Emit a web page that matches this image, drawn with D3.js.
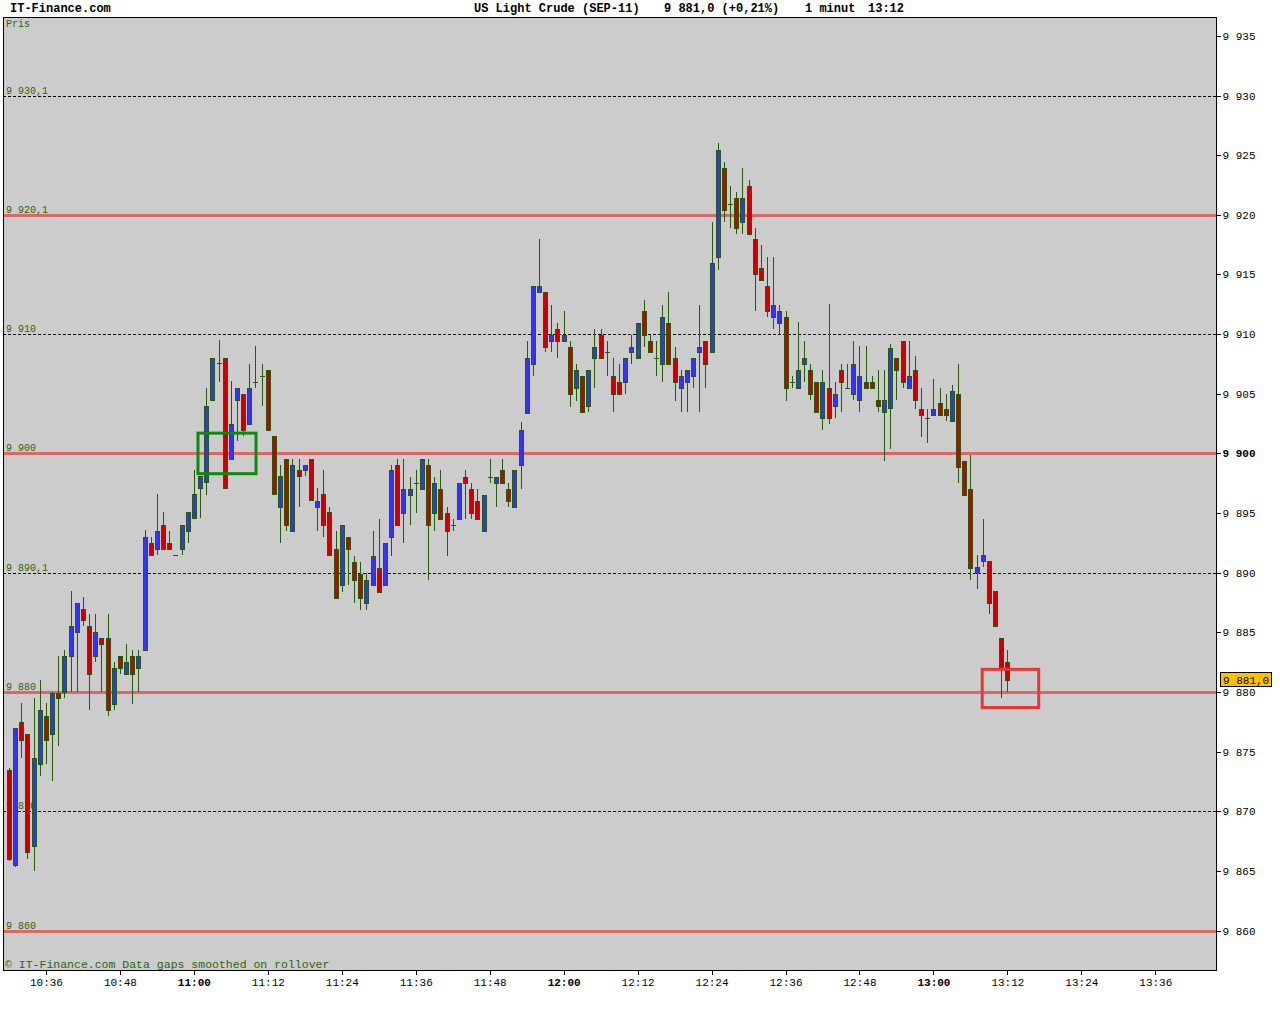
<!DOCTYPE html>
<meta charset="utf-8">
<html>
<head>
	<script src="https://cdn.jsdelivr.net/npm/d3@7"></script>
	<style>
		body { margin: 0; background: #fff; }
		text { font-family: "Liberation Mono", "DejaVu Sans Mono", monospace; }
	</style>
</head>
<body>
	<svg id="chart" width="1280" height="1024"></svg>
	<script>
		// one-minute candles, first one at 10:30
		var startTime = "10:30";
		var opens = [9873.5,9865.5,9877.5,9876.5,9867.1,9874.0,9878.0,9876.5,9879.9,9880.0,
			9883.0,9885.0,9887.0,9885.5,9883.0,9884.5,9884.5,9879.0,9883.0,9881.5,
			9883.0,9882.0,9883.5,9892.5,9892.0,9894.0,9892.5,9891.5,9892.0,9893.5,
			9894.6,9897.1,9897.6,9904.5,9907.6,9908.0,9899.5,9904.5,9905.0,9902.5,
			9906.0,9906.5,9907.0,9901.5,9895.5,9899.5,9893.5,9898.6,9898.6,9899.5,
			9895.5,9896.6,9895.1,9892.0,9889.0,9893.0,9890.9,9889.9,9887.5,9889.0,
			9890.4,9889.0,9893.0,9899.0,9895.0,9896.5,9897.5,9897.0,9899.0,9895.0,
			9897.0,9895.0,9894.0,9894.5,9898.0,9897.0,9896.0,9893.5,9898.0,9897.5,
			9898.6,9897.0,9895.5,9899.0,9903.4,9907.5,9913.5,9913.5,9909.4,9910.4,
			9909.4,9908.9,9905.5,9906.5,9904.0,9908.0,9909.9,9908.5,9906.5,9906.0,
			9906.0,9908.5,9908.0,9911.9,9909.4,9908.0,9907.5,9910.9,9908.0,9905.5,
			9906.0,9906.5,9908.5,9909.4,9908.5,9916.5,9923.9,9920.9,9921.4,9919.4,
			9922.4,9918.0,9915.5,9914.0,9911.4,9910.9,9911.4,9906.0,9905.5,9907.5,
			9907.0,9906.0,9903.0,9905.5,9904.0,9907.0,9905.5,9905.0,9904.5,9906.0,
			9906.0,9904.5,9903.5,9903.8,9908.0,9909.4,9905.5,9907.0,9903.7,9903.0,
			9903.2,9904.2,9903.7,9902.7,9905.0,9899.4,9897.0,9890.0,9891.0,9891.0,
			9888.5,9884.5,9882.5];
		var highs = [9873.6,9877.0,9879.1,9876.5,9879.5,9881.0,9879.1,9880.0,9883.0,9883.5,
			9888.5,9887.5,9888.0,9886.5,9886.5,9884.5,9886.5,9882.5,9883.0,9884.0,
			9883.5,9883.5,9893.6,9893.0,9896.6,9895.1,9893.5,9891.5,9894.0,9895.1,
			9898.6,9898.1,9905.5,9908.0,9909.5,9908.0,9906.1,9905.5,9905.0,9907.5,
			9909.0,9907.5,9907.0,9901.5,9899.0,9899.5,9899.5,9899.5,9899.0,9899.5,
			9897.1,9898.6,9895.5,9893.5,9894.0,9893.0,9891.4,9890.9,9890.0,9893.5,
			9894.5,9892.5,9899.0,9899.5,9899.5,9898.0,9898.6,9899.5,9899.5,9898.0,
			9898.6,9895.5,9894.5,9897.5,9898.6,9897.5,9897.0,9896.5,9899.5,9898.0,
			9899.5,9897.5,9898.6,9902.6,9909.4,9914.0,9918.0,9913.5,9912.4,9910.9,
			9911.9,9909.4,9907.5,9906.5,9907.0,9910.4,9910.4,9909.4,9908.0,9907.5,
			9908.0,9909.9,9910.9,9912.9,9909.9,9909.4,9912.4,9913.5,9908.9,9907.0,
			9907.0,9908.0,9912.4,9909.4,9919.4,9926.0,9924.4,9922.4,9921.9,9923.9,
			9922.9,9918.9,9917.5,9916.5,9916.5,9912.4,9911.9,9906.5,9911.0,9909.4,
			9907.5,9906.0,9907.0,9912.5,9906.0,9907.5,9907.5,9909.4,9909.0,9909.0,
			9906.5,9907.0,9907.0,9909.2,9908.0,9909.4,9909.4,9908.2,9905.5,9903.7,
			9906.2,9905.5,9905.0,9905.7,9907.5,9899.4,9899.9,9891.5,9894.5,9891.0,
			9888.5,9884.5,9883.5];
		var lows = [9865.8,9865.3,9874.5,9866.0,9865.0,9873.0,9874.0,9872.5,9875.5,9879.5,
			9880.0,9880.0,9885.5,9878.5,9882.5,9880.0,9878.0,9878.5,9881.5,9881.5,
			9879.0,9880.0,9883.5,9891.5,9891.5,9892.0,9892.0,9891.5,9891.5,9892.5,
			9894.6,9894.6,9896.5,9904.5,9906.0,9897.1,9899.5,9901.0,9901.5,9902.5,
			9905.5,9904.0,9902.0,9896.6,9892.5,9893.5,9893.5,9895.5,9898.1,9896.1,
			9893.5,9893.0,9891.5,9887.9,9888.4,9889.0,9887.5,9886.9,9886.9,9889.0,
			9888.4,9889.0,9891.4,9894.0,9892.5,9894.0,9895.0,9897.0,9889.4,9893.5,
			9894.5,9891.4,9893.5,9894.5,9894.5,9894.5,9894.5,9893.5,9897.5,9895.5,
			9897.5,9895.5,9895.5,9897.0,9903.4,9906.5,9913.5,9908.5,9908.5,9908.0,
			9909.4,9903.9,9904.4,9903.5,9903.5,9905.5,9908.0,9906.5,9903.5,9905.0,
			9905.0,9907.5,9908.0,9908.9,9908.5,9906.5,9906.0,9907.5,9904.4,9903.5,
			9903.5,9905.5,9903.5,9905.5,9908.5,9915.4,9919.4,9918.9,9918.4,9918.4,
			9918.4,9911.9,9914.5,9911.4,9910.4,9909.9,9904.4,9905.5,9905.5,9906.0,
			9904.5,9903.5,9902.0,9902.5,9903.0,9903.5,9905.5,9904.5,9903.5,9905.5,
			9905.5,9903.5,9899.4,9900.4,9904.5,9905.5,9905.5,9903.7,9901.4,9900.9,
			9903.2,9903.2,9902.7,9902.7,9897.5,9896.5,9889.4,9888.6,9890.5,9886.5,
			9885.5,9879.5,9880.0];
		var closes = [9866.0,9877.0,9876.0,9866.6,9874.5,9878.5,9876.0,9879.9,9879.5,9883.0,
			9885.5,9887.5,9886.0,9881.5,9885.0,9884.0,9878.5,9882.0,9882.0,9882.5,
			9881.5,9883.0,9893.0,9891.5,9893.5,9892.0,9892.0,9891.5,9894.0,9895.1,
			9896.6,9898.1,9904.0,9908.0,9907.6,9897.1,9902.5,9905.5,9902.0,9905.5,
			9906.0,9906.5,9902.0,9896.6,9898.1,9894.0,9899.0,9898.1,9899.0,9896.1,
			9896.0,9894.0,9891.5,9887.9,9894.0,9892.0,9889.4,9887.9,9889.4,9891.4,
			9888.4,9892.5,9898.6,9894.0,9897.0,9897.0,9897.5,9899.5,9894.0,9897.5,
			9894.5,9893.5,9894.0,9897.5,9897.5,9895.0,9894.5,9896.5,9898.0,9898.0,
			9897.5,9896.0,9898.6,9902.0,9908.0,9914.0,9914.0,9908.9,9909.9,9909.4,
			9909.9,9905.0,9907.0,9903.5,9907.0,9908.9,9908.0,9908.5,9905.0,9905.0,
			9908.0,9908.9,9910.9,9909.9,9908.5,9908.0,9911.4,9907.5,9906.0,9906.5,
			9907.0,9908.0,9908.9,9907.5,9916.0,9925.4,9920.4,9920.9,9918.9,9921.4,
			9918.4,9915.0,9914.5,9911.9,9912.4,9911.9,9905.5,9906.0,9907.0,9908.0,
			9905.0,9903.5,9906.0,9903.0,9905.0,9906.0,9905.5,9907.5,9906.5,9905.5,
			9905.5,9904.0,9904.5,9908.8,9907.0,9906.0,9906.5,9904.5,9903.2,9903.0,
			9903.7,9903.2,9903.2,9905.2,9898.9,9896.5,9890.4,9890.5,9891.5,9887.5,
			9885.5,9882.0,9881.0];

		// reference levels drawn across the plot, with their small captions
		var levels = [9930, 9920, 9910, 9900, 9890, 9880, 9870, 9860];
		var levelLabels = ["9 930,1", "9 920,1", "9 910", "9 900", "9 890,1", "9 880", "9 870", "9 860"];

		var priceTicks = [9860, 9865, 9870, 9875, 9880, 9885, 9890, 9895, 9900, 9905, 9910, 9915, 9920, 9925, 9930, 9935];
		var lastPrice = 9881.0;
		var lastLabel = "9 881,0";

		// highlighted zones [from, to, top price, bottom price]
		var greenBox = ["11:00:40", "11:10:05", 9901.7, 9898.3];
		var redBox = ["13:07:55", "13:17:05", 9881.9, 9878.7];

		var headerTexts = ["IT-Finance.com", "US Light Crude (SEP-11)", "9 881,0 (+0,21%)", "1 minut", "13:12"];
		var footerText = "\u00a9 IT-Finance.com Data gaps smoothed on rollover";

		var pLeft = 3, pRight = 1216, pTop = 17, pBottom = 970;
		var green = "#2d6410", outline = "#26580e";

		function at(hms) {
			var p = hms.split(":");
			return new Date(2011, 7, 1, +p[0], +p[1], +(p[2] || 0));
		}
		var t0 = at(startTime);
		var candles = opens.map(function(o, i) {
			return {t: d3.timeMinute.offset(t0, i), o: o, h: highs[i], l: lows[i], c: closes[i]};
		});

		var x = d3.scaleTime()
			.domain([new Date(+t0 - 0.97 * 60000), new Date(+t0 + 195.85 * 60000)])
			.range([pLeft, pRight]);
		var y = d3.scaleLinear()
			.domain([9856.7, 9936.58])
			.range([pBottom, pTop]);

		var svg = d3.select("#chart");

		svg.append("rect")
			.attr("x", pLeft).attr("y", pTop)
			.attr("width", pRight - pLeft).attr("height", pBottom - pTop)
			.attr("fill", "#cccccc");

		// level lines
		var lv = svg.append("g").attr("shape-rendering", "crispEdges");
		levels.forEach(function(v, i) {
			var red = v % 20 === 0;
			var yy = Math.round(y(v)) + 0.5;
			lv.append("line")
				.attr("x1", pLeft).attr("x2", pRight)
				.attr("y1", yy).attr("y2", yy)
				.attr("stroke", red ? "#dd6666" : "#000")
				.attr("stroke-width", red ? 3 : 1)
				.attr("stroke-dasharray", red ? null : "3,2");
			svg.append("text")
				.attr("x", 6).attr("y", yy - 3)
				.attr("font-size", 10)
				.attr("fill", green)
				.text(levelLabels[i]);
		});

		svg.append("text")
			.attr("x", 6).attr("y", 27)
			.attr("font-size", 10)
			.attr("fill", green)
			.text("Pris");

		// candles
		var cg = svg.append("g").attr("shape-rendering", "crispEdges");
		var cs = cg.selectAll("g").data(candles).enter().append("g");
		cs.append("line")
			.attr("x1", function(d) { return Math.round(x(d.t)) + 0.5; })
			.attr("x2", function(d) { return Math.round(x(d.t)) + 0.5; })
			.attr("y1", function(d) { return Math.round(y(d.h)); })
			.attr("y2", function(d) { return Math.round(y(d.l)); })
			.attr("stroke", outline);
		cs.append("rect")
			.attr("x", function(d) { return Math.round(x(d.t)) - 2 + 0.5; })
			.attr("y", function(d) { return Math.round(y(Math.max(d.o, d.c))) + 0.5; })
			.attr("width", 4)
			.attr("height", function(d) {
				return Math.max(Math.round(y(Math.min(d.o, d.c))) - Math.round(y(Math.max(d.o, d.c))), 0.01);
			})
			.attr("fill", function(d) {
				if (Math.abs(d.c - d.o) < 0.3) return outline;
				return d.c > d.o ? "#3434f4" : "#cc0000";
			})
			.attr("stroke", outline);

		// highlight boxes
		function box(b, color) {
			svg.append("rect")
				.attr("x", x(at(b[0]))).attr("y", y(b[2]))
				.attr("width", x(at(b[1])) - x(at(b[0])))
				.attr("height", y(b[3]) - y(b[2]))
				.attr("fill", "none")
				.attr("stroke", color)
				.attr("stroke-width", 3);
		}
		box(greenBox, "#0b8a0b");
		box(redBox, "#e83535");

		// frame
		svg.append("rect")
			.attr("x", pLeft + 0.5).attr("y", pTop + 0.5)
			.attr("width", pRight - pLeft).attr("height", pBottom - pTop)
			.attr("fill", "none").attr("stroke", "#000")
			.attr("shape-rendering", "crispEdges");

		// right price axis
		var ya = svg.append("g")
			.attr("transform", "translate(" + (pRight + 0.5) + ",0)")
			.call(d3.axisRight(y).tickValues(priceTicks).tickSize(4).tickPadding(2)
				.tickFormat(function(v) { return Math.floor(v / 1000) + " " + String(v % 1000).padStart(3, "0"); }));
		ya.select(".domain").remove();
		ya.selectAll("line").attr("stroke", "#000").attr("shape-rendering", "crispEdges");
		ya.selectAll("text")
			.attr("font-family", "Liberation Mono, monospace")
			.attr("font-size", 11)
			.attr("fill", "#000")
			.attr("font-weight", function(v) { return v === 9900 ? "bold" : null; });

		// time axis
		var xa = svg.append("g")
			.attr("transform", "translate(0," + (pBottom + 0.5) + ")")
			.call(d3.axisBottom(x).ticks(d3.timeMinute.every(12)).tickSize(4).tickPadding(4)
				.tickFormat(d3.timeFormat("%H:%M")));
		xa.select(".domain").remove();
		xa.selectAll("line").attr("stroke", "#000").attr("shape-rendering", "crispEdges");
		xa.selectAll("text")
			.attr("font-family", "Liberation Mono, monospace")
			.attr("font-size", 11)
			.attr("fill", "#000")
			.attr("font-weight", function(d) { return d.getMinutes() === 0 ? "bold" : null; });

		// last price tag
		var ly = y(lastPrice);
		svg.append("rect")
			.attr("x", pRight + 4.5).attr("y", Math.round(ly) - 7.5)
			.attr("width", 51).attr("height", 14)
			.attr("fill", "#ffc000").attr("stroke", "#000")
			.attr("shape-rendering", "crispEdges");
		svg.append("text")
			.attr("x", pRight + 7).attr("y", Math.round(ly) + 4)
			.attr("font-size", 11)
			.text(lastLabel);

		// header and footer
		var hx = [10, 474, 664, 805, 868];
		headerTexts.forEach(function(s, i) {
			svg.append("text")
				.attr("x", hx[i]).attr("y", 12)
				.attr("font-size", 12)
				.attr("font-weight", "bold")
				.text(s);
		});
		svg.append("text")
			.attr("x", 5).attr("y", 968)
			.attr("font-size", 11.5)
			.attr("fill", green)
			.text(footerText);
	</script>
</body>
</html>
